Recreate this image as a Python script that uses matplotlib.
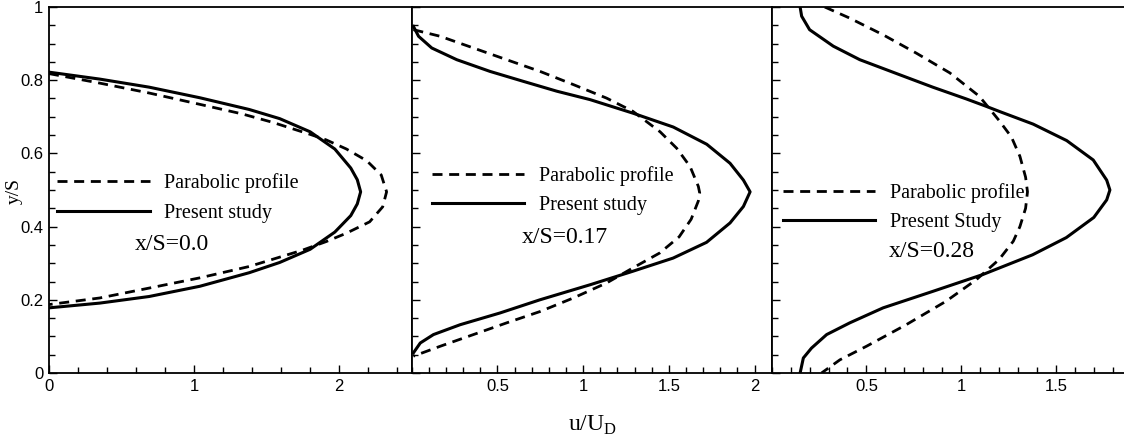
import numpy as np
import matplotlib
matplotlib.use("Agg")
import matplotlib.pyplot as plt
from matplotlib.ticker import MultipleLocator, FixedLocator, FuncFormatter

# ---------------- data ----------------
# Panel 1: x/S = 0.0
p1_solid_u = [0.0, 0.35, 0.69, 1.04, 1.38, 1.59, 1.80, 1.97, 2.08, 2.125, 2.148, 2.125, 2.08, 1.97, 1.80, 1.59, 1.38, 1.04, 0.69, 0.35, 0.0]
p1_solid_y = [0.822, 0.803, 0.781, 0.752, 0.720, 0.695, 0.659, 0.612, 0.560, 0.528, 0.495, 0.462, 0.43, 0.385, 0.338, 0.302, 0.274, 0.237, 0.209, 0.191, 0.178]
p1_dash_u = [0.0, 0.35, 0.69, 1.04, 1.33, 1.54, 1.80, 1.91, 2.05, 2.19, 2.29, 2.327, 2.30, 2.21, 2.05, 1.91, 1.75, 1.38, 1.04, 0.69, 0.35, 0.0]
p1_dash_y = [0.818, 0.792, 0.765, 0.734, 0.708, 0.685, 0.652, 0.637, 0.612, 0.580, 0.541, 0.495, 0.454, 0.413, 0.382, 0.359, 0.336, 0.291, 0.260, 0.232, 0.205, 0.187]

# Panel 2: x/S = 0.17
p2_solid_u = [0.01, 0.04, 0.117, 0.263, 0.457, 0.65, 0.846, 1.04, 1.29, 1.526, 1.721, 1.857, 1.935, 1.974, 1.935, 1.857, 1.72, 1.525, 1.29, 1.04, 0.748, 0.515, 0.283, 0.127, 0.05, 0.01]
p2_solid_y = [0.947, 0.92, 0.888, 0.856, 0.824, 0.797, 0.77, 0.747, 0.71, 0.672, 0.625, 0.573, 0.527, 0.495, 0.455, 0.41, 0.357, 0.314, 0.278, 0.241, 0.2, 0.164, 0.132, 0.105, 0.082, 0.055]
p2_dash_u = [0.01, 0.166, 0.36, 0.554, 0.749, 0.943, 1.137, 1.29, 1.449, 1.546, 1.624, 1.672, 1.68, 1.672, 1.63, 1.56, 1.447, 1.29, 1.137, 0.943, 0.749, 0.554, 0.36, 0.166, 0.01]
p2_dash_y = [0.938, 0.92, 0.888, 0.856, 0.824, 0.788, 0.751, 0.715, 0.659, 0.614, 0.564, 0.51, 0.492, 0.47, 0.42, 0.372, 0.328, 0.287, 0.246, 0.205, 0.168, 0.137, 0.105, 0.073, 0.046]

# Panel 3: x/S = 0.28
p3_solid_u = [0.15, 0.158, 0.20, 0.325, 0.465, 0.675, 0.85, 1.026, 1.13, 1.205, 1.38, 1.557, 1.697, 1.768, 1.785, 1.768, 1.70, 1.555, 1.377, 1.114, 0.85, 0.588, 0.412, 0.29, 0.21, 0.167, 0.15]
p3_solid_y = [1.0, 0.975, 0.938, 0.893, 0.856, 0.815, 0.781, 0.749, 0.729, 0.714, 0.68, 0.635, 0.582, 0.527, 0.5, 0.473, 0.425, 0.37, 0.323, 0.269, 0.223, 0.178, 0.137, 0.105, 0.068, 0.041, 0.0]
p3_dash_u = [0.28, 0.41, 0.588, 0.763, 0.94, 1.096, 1.20, 1.265, 1.31, 1.34, 1.35, 1.34, 1.31, 1.275, 1.20, 1.08, 0.92, 0.71, 0.50, 0.36, 0.263]
p3_dash_y = [1.0, 0.97, 0.924, 0.874, 0.82, 0.756, 0.69, 0.645, 0.592, 0.535, 0.495, 0.45, 0.40, 0.36, 0.31, 0.255, 0.196, 0.132, 0.073, 0.036, 0.0]

panel_labels = ["x/S=0.0", "x/S=0.17", "x/S=0.28"]
legend_dash = ["Parabolic profile", "Parabolic profile", "Parabolic profile"]
legend_solid = ["Present study", "Present study", "Present Study"]
x_limits = [(0, 2.5), (0, 2.1), (0, 1.9)]
x_major = [[0, 1, 2], [0.5, 1, 1.5, 2], [0.5, 1, 1.5]]
x_minor_step = [0.2, 0.1, 0.1]

# ---------------- figure ----------------
W, H = 1124, 444
fig = plt.figure(figsize=(W / 100, H / 100), dpi=100)

serif = "Liberation Serif"
sans = "Liberation Sans"

bottom = (H - 373) / H
height = 366 / H
lefts = [49 / W, 411.7 / W, 771.7 / W]
widths = [362.7 / W, 360 / W, 360 / W]

data = [
    (p1_solid_u, p1_solid_y, p1_dash_u, p1_dash_y),
    (p2_solid_u, p2_solid_y, p2_dash_u, p2_dash_y),
    (p3_solid_u, p3_solid_y, p3_dash_u, p3_dash_y),
]
leg_anchor = [(0.022, 0.545), (0.056, 0.566), (0.031, 0.520)]
lbl_pos = [(0.237, 0.35), (0.306, 0.369), (0.326, 0.331)]

fmt = FuncFormatter(lambda v, p: ("%g" % v))

for i in range(3):
    ax = fig.add_axes([lefts[i], bottom, widths[i], height])
    su, sy, du, dy = data[i]
    ld, = ax.plot(du, dy, color="black", lw=2.0, dashes=(3.6, 2.4),
                  dash_capstyle="butt", label=legend_dash[i])
    ls, = ax.plot(su, sy, color="black", lw=2.2, label=legend_solid[i])
    ax.set_xlim(*x_limits[i])
    ax.set_ylim(0, 1)

    ax.xaxis.set_major_locator(FixedLocator(x_major[i]))
    ax.xaxis.set_minor_locator(MultipleLocator(x_minor_step[i]))
    ax.yaxis.set_major_locator(MultipleLocator(0.2))
    ax.yaxis.set_minor_locator(MultipleLocator(0.05))
    ax.xaxis.set_major_formatter(fmt)
    ax.yaxis.set_major_formatter(fmt)

    ax.tick_params(axis="both", which="both", direction="in", top=False, right=False,
                   width=1.0, colors="black")
    ax.tick_params(axis="both", which="major", length=6, labelsize=12, pad=4)
    ax.tick_params(axis="both", which="minor", length=4)
    if i > 0:
        ax.tick_params(axis="y", labelleft=False)
    for lab in ax.get_xticklabels() + ax.get_yticklabels():
        lab.set_fontfamily(sans)
    for sp in ax.spines.values():
        sp.set_linewidth(1.3)

    ax.legend(handles=[ld, ls], loc="upper left", bbox_to_anchor=leg_anchor[i],
              frameon=False, borderpad=0, borderaxespad=0, handlelength=4.6,
              handletextpad=0.7, labelspacing=0.5,
              prop={"family": serif, "size": 14.5})
    ax.text(lbl_pos[i][0], lbl_pos[i][1], panel_labels[i], transform=ax.transAxes,
            ha="left", va="center", fontsize=17, fontfamily=serif)

    if i == 0:
        ax.set_ylabel("y/S", fontfamily=serif, fontsize=14)
        ax.yaxis.set_label_coords((23 - 49) / 362.7, (373 - 191) / 366)

fig.text(592 / W, 1 - 425 / H, r"u/U$_\mathregular{D}$", ha="center", va="center",
         fontsize=17, fontfamily=serif)

fig.savefig("out.png", dpi=100, facecolor="white")
